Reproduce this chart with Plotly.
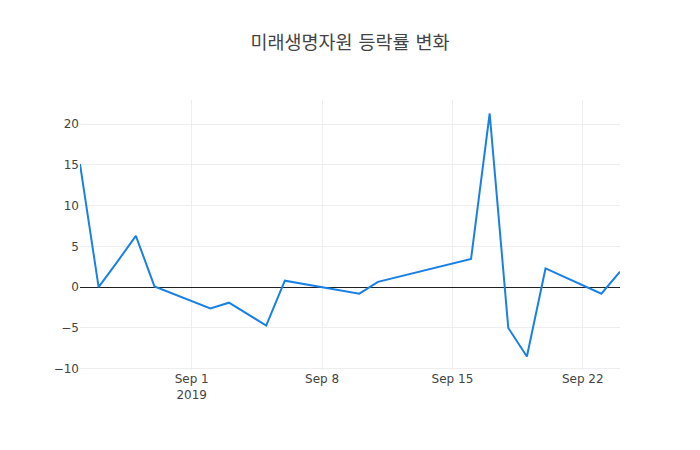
import pandas as pd
import plotly.graph_objects as go

# 거래일과 등락률 (%)
dates = [
    "2019-08-26", "2019-08-27", "2019-08-28", "2019-08-29", "2019-08-30",
    "2019-09-02", "2019-09-03", "2019-09-04", "2019-09-05", "2019-09-06",
    "2019-09-09", "2019-09-10", "2019-09-11",
    "2019-09-16", "2019-09-17", "2019-09-18", "2019-09-19", "2019-09-20",
    "2019-09-23", "2019-09-24",
]
change_pct = [
    15.1, 0.0, 3.1, 6.3, 0.1,
    -2.6, -1.9, -3.3, -4.7, 0.8,
    -0.4, -0.8, 0.65,
    3.45, 21.3, -5.0, -8.5, 2.3,
    -0.8, 1.9,
]

df = pd.DataFrame({"date": pd.to_datetime(dates), "change": change_pct})

fig = go.Figure(
    go.Scatter(
        x=df["date"],
        y=df["change"],
        mode="lines",
        line=dict(color="rgb(25,128,230)", width=2),
        name="등락률",
    )
)

# 페이지 여백(8px)을 감안해 여백 조정
fig.update_layout(
    width=700,
    height=450,
    margin=dict(l=72, r=88, t=92, b=88),
    title=dict(text="미래생명자원 등락률 변화", x=342 / 700, xanchor="center",
               y=1 - 35 / 450, yanchor="middle",
               font=dict(size=18.5, color="#444")),
    font=dict(family="DejaVu Sans, Noto Sans CJK KR, sans-serif", size=12, color="#444"),
    paper_bgcolor="white",
    plot_bgcolor="white",
    showlegend=False,
)
fig.update_xaxes(gridcolor="#eee", zeroline=False)
fig.update_yaxes(gridcolor="#eee", zeroline=True, zerolinecolor="#222", zerolinewidth=1)

fig.write_html("out.html")
